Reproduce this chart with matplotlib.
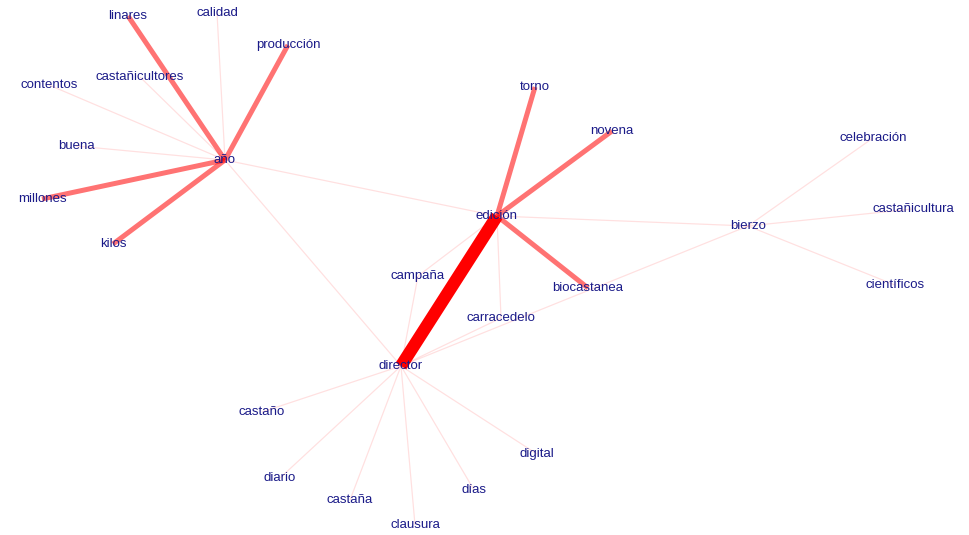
import matplotlib
matplotlib.use("Agg")
import matplotlib.pyplot as plt

# word co-occurrence network: node layout (pixel space of the original picture)
NODES = ["año", "linares", "calidad", "producción", "castañicultores", "contentos",
         "buena", "millones", "kilos", "edición", "torno", "novena", "campaña",
         "biocastanea", "carracedelo", "director", "bierzo", "celebración",
         "castañicultura", "científicos", "castaño", "diario", "castaña",
         "clausura", "días", "digital"]
NODE_X = [225, 128, 217, 288, 140, 49, 76, 42, 113, 497, 535, 612, 418,
          588, 501, 401, 748, 873, 913, 895, 262, 280, 350, 415, 474, 537]
NODE_Y = [160, 16, 13, 45, 77, 85, 146, 199, 244, 216, 87, 131, 276,
          288, 318, 366, 226, 138, 209, 285, 412, 478, 500, 525, 490, 454]

EDGE_FROM = ["año"] * 10 + ["edición"] * 7 + ["director"] * 9 + ["bierzo"] * 3
EDGE_TO = ["linares", "producción", "millones", "kilos", "calidad",
           "castañicultores", "contentos", "buena", "edición", "director",
           "torno", "novena", "biocastanea", "director", "bierzo", "campaña",
           "carracedelo",
           "campaña", "carracedelo", "bierzo", "castaño", "diario", "castaña",
           "clausura", "días", "digital",
           "celebración", "castañicultura", "científicos"]
EDGE_W = [4, 4, 4, 4, 1, 1, 1, 1, 1, 1,
          4, 4, 4, 10, 1, 1, 1,
          1, 1, 1, 1, 1, 1, 1, 1, 1,
          1, 1, 1]

pos = {n: (x, y) for n, x, y in zip(NODES, NODE_X, NODE_Y)}
wmax = max(EDGE_W)

fig = plt.figure(figsize=(9.69, 5.35), dpi=100)
ax = fig.add_axes([0, 0, 1, 1])
ax.set_xlim(0, 969); ax.set_ylim(535, 0)
ax.axis("off")

# thin edges first so the heavy ones sit on top
order = sorted(range(len(EDGE_W)), key=lambda i: EDGE_W[i])
for i in order:
    a, b, w = EDGE_FROM[i], EDGE_TO[i], EDGE_W[i]
    (x0, y0), (x1, y1) = pos[a], pos[b]
    if w >= wmax:
        alpha = 1.0
    elif w > 1:
        alpha = 0.55
    else:
        alpha = 0.12
    ax.plot([x0, x1], [y0, y1], color="#ff0000", alpha=alpha, lw=0.9 * w,
            solid_capstyle="butt", zorder=1)

for n in NODES:
    x, y = pos[n]
    ax.text(x, y, n, ha="center", va="center", fontsize=9.5, color="#1a1a88",
            family="Liberation Sans", zorder=3)

fig.savefig("out.png", dpi=100)
